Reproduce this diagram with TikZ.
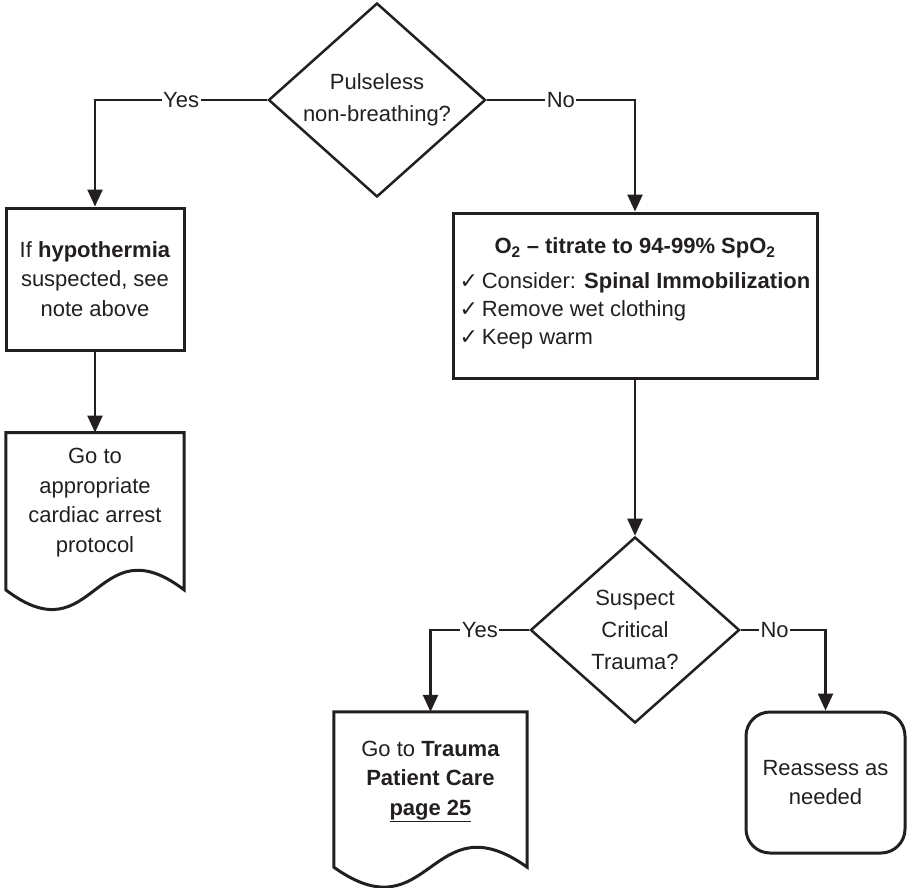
\documentclass[tikz,border=0pt]{standalone}
\usepackage{fontspec}
\setmainfont{Liberation Sans}
\newfontfamily\checkfont{DejaVu Sans}
\usetikzlibrary{positioning, arrows.meta, calc, shapes.geometric}
\definecolor{lineDark}{HTML}{231F20}
\definecolor{textMain}{HTML}{231F20}
\newcommand{\flowfont}{\fontsize{22}{29.5}\selectfont}
\newcommand{\askfont}{\fontsize{22}{32}\selectfont}
\newcommand{\tick}{{\checkfont\fontsize{22}{22}\selectfont ✓}}
\tikzset{
  decision/.style={diamond, draw=lineDark, line width=2.5pt, aspect=1.12,
    inner sep=0pt, minimum width=217pt, minimum height=194pt,
    font=\askfont, text=textMain, align=center},
  actionbox/.style={rectangle, draw=lineDark, line width=3pt,
    font=\flowfont, text=textMain, align=center},
  docbox/.style={rectangle, font=\flowfont, text=textMain, align=center},
  docline/.style={draw=lineDark, line width=3pt, line join=miter},
  endbox/.style={rectangle, draw=lineDark, rounded corners=24pt, line width=3pt,
    font=\flowfont, text=textMain, align=center},
  flowarrow/.style={-{Triangle[length=17pt, width=15pt]}, line width=2.5pt, color=lineDark},
  answer/.style={fill=white, inner sep=1.5pt, font=\flowfont, text=textMain},
}

\begin{document}
\begin{tikzpicture}[x=1pt, y=-1pt]
  \useasboundingbox (0,0) rectangle (910,888);

  % === First question ===
  \node[decision] (pulse) at (377,100) {Pulseless\\non-breathing?};

  % === Left branch: hypothermia / cardiac arrest ===
  \node[actionbox, minimum width=178pt, minimum height=142pt] (hypo) at (95,279)
    {If \textbf{hypothermia}\\suspected, see\\note above};
  \node[docbox, minimum width=178pt, minimum height=140pt, below=81pt of hypo] (arrest)
    {Go to\\appropriate\\cardiac arrest\\protocol};
  \draw[docline] (arrest.north west) -- (arrest.north east)
    -- ($(arrest.south east)+(0,17)$)
    .. controls ($(arrest.south)+(0,-51)$) and ($(arrest.south)+(0,85)$)
    .. ($(arrest.south west)+(0,17)$) -- cycle;

  % === Right branch: care box ===
  \node[actionbox, minimum width=364pt, minimum height=165pt] (care) at (635,295.5)
    {\textbf{O\textsubscript{2} -- titrate to 94-99\% SpO\textsubscript{2}}\\[10pt]
     \def\arraystretch{0.95}%
     \begin{tabular}{@{}l@{}}
       \tick\,Consider: \textbf{Spinal Immobilization}\\
       \tick\,Remove wet clothing\\
       \tick\,Keep warm
     \end{tabular}};

  % === Second question ===
  \node[decision, minimum width=209pt, minimum height=186pt] (trauma) at (635,630)
    {Suspect\\Critical\\Trauma?};

  \node[docbox, minimum width=193pt, minimum height=139pt] (tpc) at (430.5,781.5)
    {Go to \textbf{Trauma}\\\textbf{Patient Care}\\\textbf{\underline{page 25}}};
  \draw[docline] (tpc.north west) -- (tpc.north east)
    -- ($(tpc.south east)+(0,16)$)
    .. controls ($(tpc.south)+(0,-53)$) and ($(tpc.south)+(0,85)$)
    .. ($(tpc.south west)+(0,16)$) -- cycle;

  \node[endbox, minimum width=159pt, minimum height=141pt] (reassess) at (825.5,782.5)
    {Reassess as\\needed};

  % Arrows
  \draw[flowarrow] (pulse.west) -| node[answer, pos=0.25] {Yes} (hypo.north);
  \draw[flowarrow] (hypo) -- (arrest);
  \draw[flowarrow] (pulse.east) -| node[answer, pos=0.25] {No} (care.north);
  \draw[flowarrow] (care) -- (trauma);
  \draw[flowarrow] (trauma.west) -| node[answer, pos=0.25] {Yes} (tpc.north);
  \draw[flowarrow] (trauma.east) -| node[answer, pos=0.2] {No} (reassess.north);

\end{tikzpicture}
\end{document}
